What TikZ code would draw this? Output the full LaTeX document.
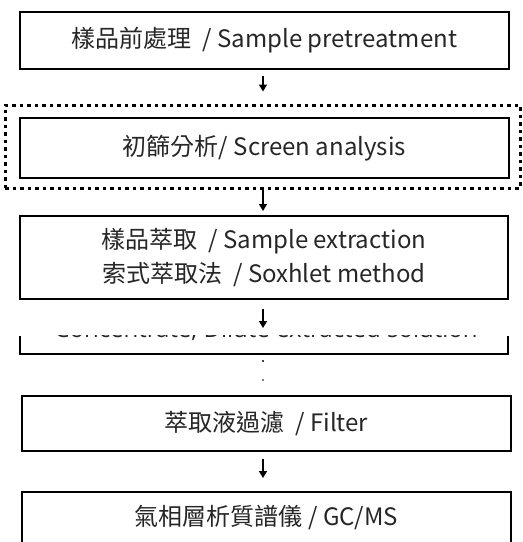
\documentclass[tikz,border=0pt]{standalone}
\usepackage{fontspec}
\setmainfont{Open Sans}
\newfontfamily\cjk{Noto Sans CJK TC}
\usetikzlibrary{arrows.meta}
\definecolor{txt}{HTML}{262626}
\tikzset{
  boxline/.style={draw=black, line width=2pt},
  lbl/.style={font=\fontsize{24}{34}\selectfont, text=txt, align=center, inner sep=0pt},
  flow/.style={line width=1.5pt, -{Triangle[width=8pt,length=7pt]}},
  dotbox/.style={draw=black, line width=3pt, dash pattern=on 3.5pt off 4pt},
}
\begin{document}
\begin{tikzpicture}[x=1pt,y=-1pt]
\useasboundingbox (0,0) rectangle (523,542);
% boxes
\node[boxline, minimum width=489pt, minimum height=57pt, inner sep=0pt] (b1) at (264.5,40.5) {};
\node[lbl] (t1) at (b1.center) {\cjk{樣品前處理}\ \ / Sample pretreatment};
\node[dotbox, minimum width=515pt, minimum height=83pt, inner sep=0pt] (dot) at (262.5,146.5) {};
\node[boxline, minimum width=489pt, minimum height=60pt, inner sep=0pt] (b2) at (264.5,148) {};
\node[lbl] (t2) at (b2.center) {\cjk{初篩分析}/ Screen analysis};
\node[boxline, minimum width=488pt, minimum height=83pt, inner sep=0pt] (b3) at (264,257.5) {};
\node[lbl] (t3) at (b3.center) {\cjk{樣品萃取}\ \ / Sample extraction\\\cjk{索式萃取法}\ \ / Soxhlet method};
% partial box
\coordinate (b4) at (264,336);
\draw[line width=2pt] (20,336) -- (20,354) -- (508,354) -- (508,336);
\begin{scope}
\clip (30,335) rectangle (500,345);
\node[lbl, anchor=base] (t4) at (266,337.5) {Concentrate, Dilute extracted solution};
\end{scope}
\node[circle, fill=black, inner sep=0pt, minimum size=2.2pt] (d1) at (263,361) {};
\node[circle, fill=black, inner sep=0pt, minimum size=1.8pt] (d2) at (263,380) {};
\node[boxline, minimum width=489pt, minimum height=55pt, inner sep=0pt] (b5) at (266.5,423.5) {};
\node[lbl] (t5) at (b5.center) {\cjk{萃取液過濾}\ \ / Filter};
\begin{scope}
\clip (0,480) rectangle (523,542);
\node[boxline, minimum width=489pt, minimum height=80pt, inner sep=0pt] (b6) at (266.5,532) {};
\end{scope}
\node[lbl] (t6) at (266.5,518) {\cjk{氣相層析質譜儀}\ / GC/MS};
% arrows
\draw[flow, shorten <=6pt, shorten >=12pt] (b1.south -| 263,0) -- (dot.north -| 263,0);
\draw[flow, shorten <=0pt, shorten >=4pt] (dot.south -| 263,0) -- (b3.north -| 263,0);
\draw[flow, shorten <=9pt, shorten >=8pt] (b3.south -| 263,0) -- (b4 -| 263,0);
\draw[flow, shorten <=7pt, shorten >=13pt] (b5.south -| 263,0) -- (b6.north -| 263,0);
\end{tikzpicture}
\end{document}
